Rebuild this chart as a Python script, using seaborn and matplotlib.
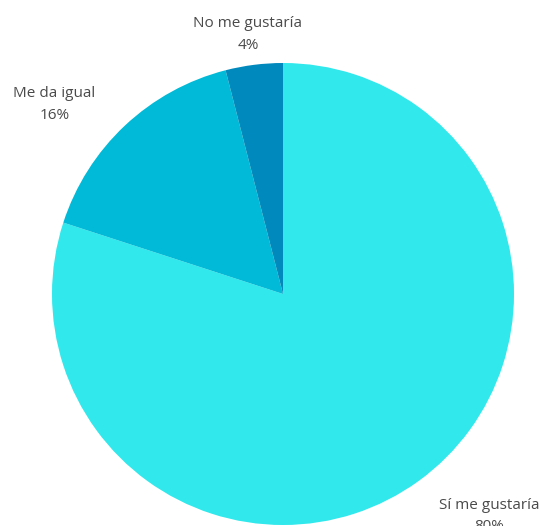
import matplotlib
matplotlib.use("Agg")
import matplotlib.pyplot as plt
import seaborn as sns

categories = ["Sí me gustaría", "Me da igual", "No me gustaría"]
values = [80, 16, 4]
colors = ["#31E8EC", "#00BAD7", "#0089BD"]

# label anchor points (data coords of the unit pie)
label_pos = [(0.892, -0.915), (-0.989, 0.866), (-0.152, 1.169)]

sns.set_theme(style="white")
plt.rcParams["font.family"] = ["Open Sans", "DejaVu Sans"]

fig = plt.figure(figsize=(5.46, 5.26), dpi=100)
ax = fig.add_axes([52 / 546, 1 / 526, 462 / 546, 462 / 526])
ax.pie(values, colors=colors, startangle=90, counterclock=False, radius=1,
       wedgeprops=dict(linewidth=0))
ax.set_xlim(-1, 1)
ax.set_ylim(-1, 1)
ax.set_aspect("equal")
ax.axis("off")

for name, v, (x, y) in zip(categories, values, label_pos):
    ax.text(x, y, name, ha="center", va="center", fontsize=11,
            color="#4a4a4a", clip_on=False)
    ax.text(x, y - 0.092, f"{v}%", ha="center", va="center", fontsize=11,
            color="#4a4a4a", clip_on=False)

fig.savefig("out.png", dpi=100)
